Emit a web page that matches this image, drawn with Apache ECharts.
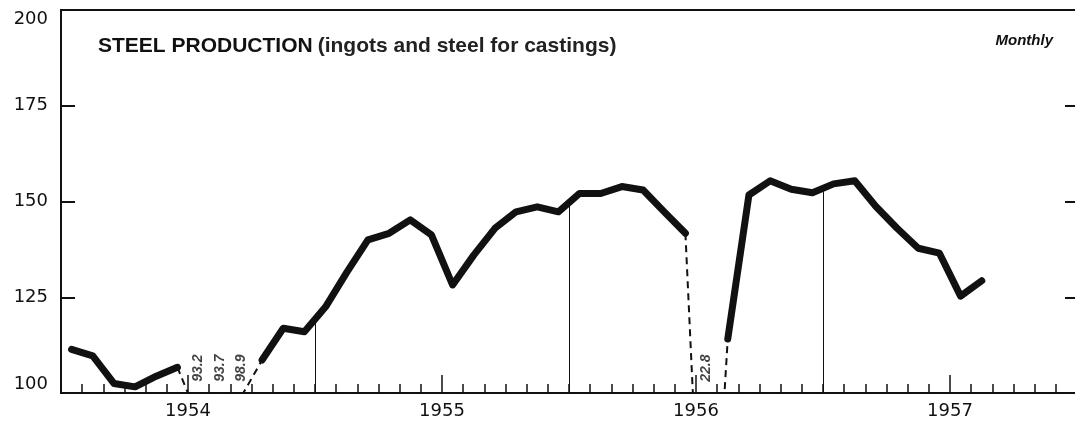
<!DOCTYPE html>
<html>
<head>
<meta charset="utf-8">
<script src="https://cdn.jsdelivr.net/npm/echarts@6/dist/echarts.min.js"></script>
<style>
  html, body { margin: 0; padding: 0; background: #fff; }
  #chart { width: 1075px; height: 421px; }
</style>
</head>
<body>
<div id="chart"></div>
<script>
// index of steel production, monthly, Jan 1954 .. Aug 1957
const years = ['1954', '1955', '1956', '1957']
const production = [
  111.4, 109.7, 102.5, 101.6, 104.4, 106.7, 93.2, 93.7, 98.9, 108.6, 116.9, 116.0,
  122.5, 131.5, 140.0, 141.7, 145.2, 141.3, 128.2, 136.0, 143.0, 147.3, 148.6, 147.3,
  152.1, 152.1, 153.9, 153.0, 147.3, 141.7, 22.8, 114.1, 151.7, 155.4, 153.2, 152.3,
  154.6, 155.4, 148.7, 143.0, 137.8, 136.5, 125.3, 129.3
]
const yTicks = [100, 125, 150, 175, 200]

const AXIS_MIN = 100
const monthCount = years.length * 12
const monthNames = []
for (let i = 0; i < monthCount; i++) {
  monthNames.push(years[Math.floor(i / 12)] + '-' + (i % 12 + 1))
}

// solid: on-scale months only
const solidData = production.map((v, i) => [i + 0.5, v < AXIS_MIN ? null : v])
// dashed: only the stretches next to off-scale months
const dashedData = production.map((v, i) => {
  const near = v < AXIS_MIN || production[i - 1] < AXIS_MIN || production[i + 1] < AXIS_MIN
  return [i + 0.5, near ? v : null]
})
// rotated value notes for off-scale months
const noteData = []
production.forEach((v, i) => {
  if (v < AXIS_MIN) noteData.push({ value: [i + 0.5, 106.5], label: { formatter: v.toFixed(1) } })
})
// thin lines at each year boundary, up to the curve
const yearLines = []
for (let b = 12; b < production.length; b += 12) {
  const top = (production[b - 1] + production[b]) / 2
  yearLines.push([{ coord: [b, AXIS_MIN] }, { coord: [b, top] }])
}

const myChart = echarts.init(document.getElementById('chart'))
const option = {
  animation: false,
  backgroundColor: '#fff',
  title: [
    {
      left: 93,
      top: 31,
      text: '{b|STEEL PRODUCTION} {n|(ingots and steel for castings)}',
      textStyle: {
        rich: {
          b: { fontFamily: 'Liberation Sans', fontWeight: 'bold', fontSize: 21, color: '#111' },
          n: { fontFamily: 'Liberation Sans', fontWeight: 'bold', fontSize: 21, color: '#222' }
        }
      }
    },
    {
      right: 17,
      top: 28,
      text: 'Monthly',
      textStyle: { fontFamily: 'Liberation Sans', fontStyle: 'italic', fontWeight: 'bold', fontSize: 15, color: '#111' }
    }
  ],
  grid: {
    left: 61,
    top: 10,
    right: -2,
    bottom: 28,
    outerBoundsMode: 'none',
    show: true,
    borderColor: '#111',
    borderWidth: 2
  },
  xAxis: [
    {
      type: 'value',
      min: 0,
      max: monthCount,
      interval: 1,
      axisLine: { show: true, lineStyle: { color: '#111', width: 2 } },
      axisTick: { show: true, inside: true, length: 9, lineStyle: { color: '#111', width: 1.5 } },
      axisLabel: {
        margin: 9,
        fontFamily: 'DejaVu Sans',
        fontSize: 18,
        color: '#111',
        formatter: v => (v % 12 === 6 ? years[(v - 6) / 12] : '')
      },
      splitLine: { show: false }
    },
    {
      type: 'category',
      data: monthNames,
      position: 'bottom',
      axisLine: { show: false },
      axisTick: { show: true, inside: true, length: 18, interval: (i) => i % 12 === 6, lineStyle: { color: '#111', width: 1.5 } },
      axisLabel: { show: false },
      splitLine: { show: false }
    }
  ],
  yAxis: [
    {
      type: 'value',
      min: 100,
      max: 200,
      interval: 25,
      axisLine: { show: true, lineStyle: { color: '#111', width: 2 } },
      axisTick: { show: true, inside: true, length: 14, lineStyle: { color: '#111', width: 2 } },
      axisLabel: {
        margin: 13,
        fontFamily: 'DejaVu Sans',
        fontSize: 18,
        color: '#111',
        verticalAlignMinLabel: 'bottom',
        verticalAlignMaxLabel: 'top',
        formatter: v => (yTicks.indexOf(v) >= 0 ? String(v) : '')
      },
      splitLine: { show: false }
    },
    {
      type: 'value',
      position: 'right',
      min: 100,
      max: 200,
      interval: 25,
      axisLine: { show: false },
      axisTick: { show: true, inside: true, length: 12, lineStyle: { color: '#111', width: 2 } },
      axisLabel: { show: false },
      splitLine: { show: false }
    }
  ],
  series: [
    {
      name: 'dashed',
      type: 'line',
      data: dashedData,
      symbol: 'none',
      connectNulls: false,
      lineStyle: { color: '#111', width: 2, type: [7, 5] },
      z: 2
    },
    {
      name: 'production',
      type: 'line',
      data: solidData,
      symbol: 'none',
      connectNulls: false,
      lineStyle: { color: '#111', width: 7, cap: 'round', join: 'round' },
      markLine: {
        silent: true,
        symbol: 'none',
        label: { show: false },
        lineStyle: { color: '#111', width: 1, type: 'solid' },
        data: yearLines
      },
      z: 3
    },
    {
      name: 'notes',
      type: 'scatter',
      data: noteData,
      symbolSize: 0,
      label: {
        show: true,
        position: 'inside',
        rotate: 90,
        fontFamily: 'Liberation Sans',
        fontStyle: 'italic',
        fontWeight: 'bold',
        fontSize: 14,
        color: '#111'
      },
      z: 4
    }
  ]
}
myChart.setOption(option)
</script>
</body>
</html>
